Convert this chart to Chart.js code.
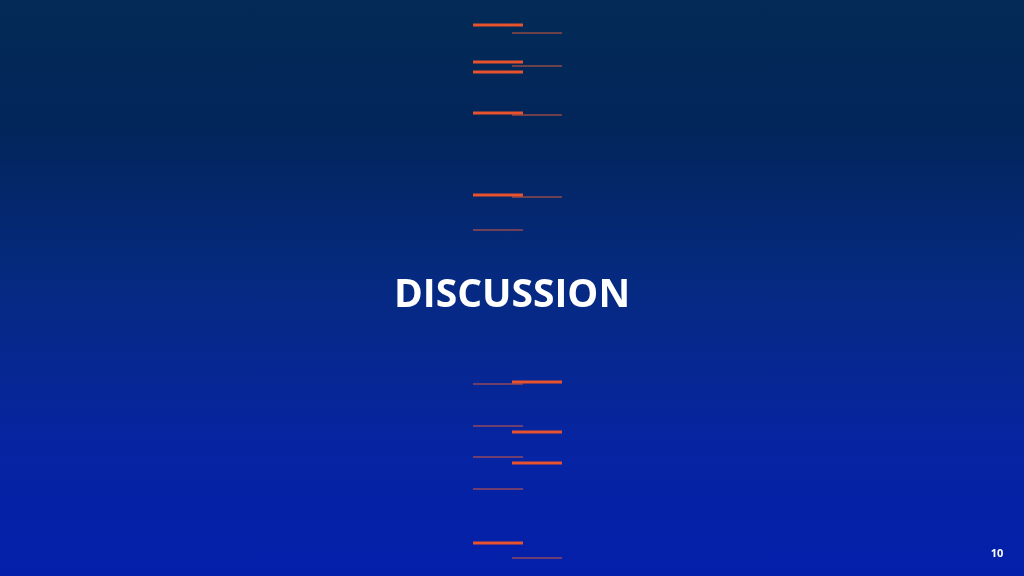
<!DOCTYPE html>
<html>
<head>
<meta charset="utf-8">
<script src="https://cdn.jsdelivr.net/npm/chart.js@4/dist/chart.umd.min.js"></script>
<style>
    html, body {
        margin: 0;
        padding: 0;
        width: 1024px;
        height: 576px;
        overflow: hidden;
    }
    body {
        position: relative;
        background: linear-gradient(to bottom, #032b56 0%, #02255a 22%, #062a82 50%, #0624a2 78%, #041faa 100%);
        font-family: "Open Sans", "Liberation Sans", sans-serif;
    }
    #wrap {
        position: absolute;
        left: 0;
        top: 0;
        width: 1024px;
        height: 576px;
    }
    #title {
        position: absolute;
        left: 0;
        width: 1024px;
        top: 266px;
        text-align: center;
        color: #ffffff;
        font-weight: bold;
        font-size: 39px;
        line-height: 52px;
    }
    #page {
        position: absolute;
        left: 980px;
        width: 34px;
        top: 545px;
        text-align: center;
        color: #ffffff;
        font-weight: bold;
        font-size: 11px;
    }
</style>
</head>
<body>
<div id="wrap"><canvas id="lines"></canvas></div>
<div id="title">DISCUSSION</div>
<div id="page">10</div>

<script>
// left column of dashes (x 473 -> 523)
const leftSpan = [473, 523];
const leftY = [25, 62, 72, 113, 195, 230, 384, 426, 457, 489, 543];
const leftThick = [true, true, true, true, true, false, false, false, false, false, true];

// right column of dashes (x 512 -> 562)
const rightSpan = [512, 562];
const rightY = [33, 66, 115, 197, 382, 432, 463, 558];
const rightThick = [false, false, false, false, true, true, true, false];

const orange = "#e8522c";
const orangeThin = "#d9583c";

function makeSegments(span, ys, thick) {
    return ys.map((y, i) => ({
        data: [{ x: span[0], y: y }, { x: span[1], y: y }],
        borderColor: thick[i] ? orange : orangeThin,
        borderWidth: thick[i] ? 3 : 1.2,
        pointRadius: 0,
        showLine: true,
        fill: false
    }));
}

const datasets = makeSegments(leftSpan, leftY, leftThick)
    .concat(makeSegments(rightSpan, rightY, rightThick));

new Chart(document.getElementById("lines"), {
    type: "scatter",
    data: { datasets: datasets },
    options: {
        responsive: true,
        maintainAspectRatio: false,
        animation: false,
        layout: { padding: 0 },
        plugins: {
            legend: { display: false },
            tooltip: { enabled: false }
        },
        scales: {
            x: { type: "linear", min: 0, max: 1024, display: false },
            y: { type: "linear", min: 0, max: 576, reverse: true, display: false }
        }
    }
});
</script>
</body>
</html>
